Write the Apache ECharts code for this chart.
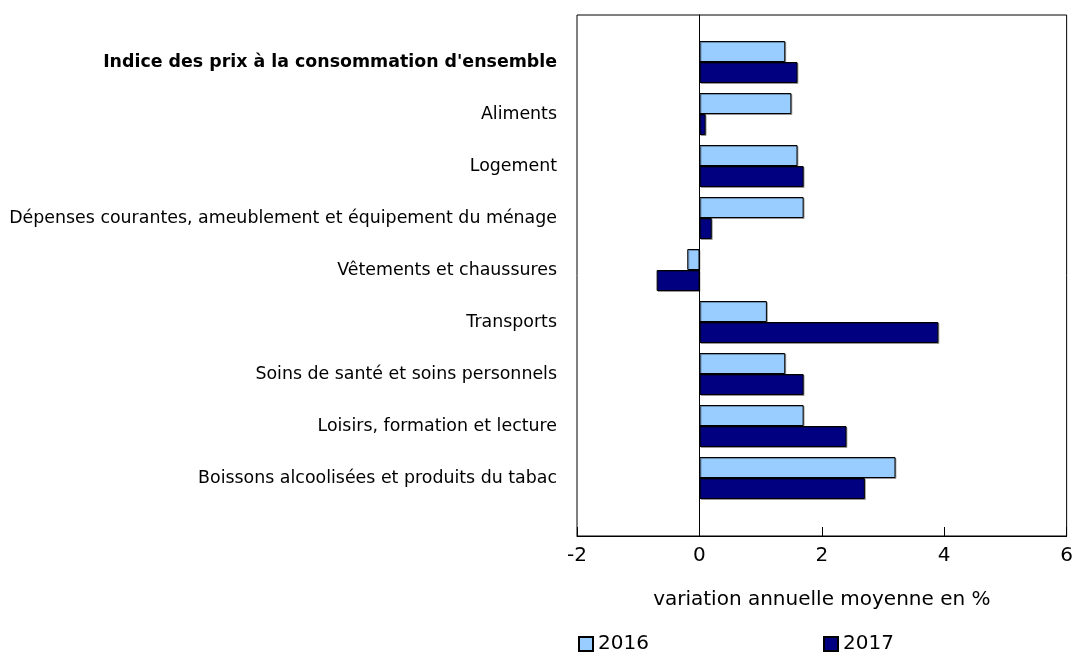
<!DOCTYPE html>
<html>
<head>
<meta charset="utf-8">
<script src="https://cdn.jsdelivr.net/npm/echarts@6/dist/echarts.min.js"></script>
<style>
  html, body { margin: 0; padding: 0; background: #fff; }
  #chart { width: 1076px; height: 654px; }
</style>
</head>
<body>
<div id="chart"></div>
<script>
var categories = [
    "Indice des prix à la consommation d'ensemble",
    "Aliments",
    "Logement",
    "Dépenses courantes, ameublement et équipement du ménage",
    "Vêtements et chaussures",
    "Transports",
    "Soins de santé et soins personnels",
    "Loisirs, formation et lecture",
    "Boissons alcoolisées et produits du tabac"
];
var values2016 = [1.4, 1.5, 1.6, 1.7, -0.2, 1.1, 1.4, 1.7, 3.2];
var values2017 = [1.6, 0.1, 1.7, 0.2, -0.7, 3.9, 1.7, 2.4, 2.7];
var xTicks = [-2, 0, 2, 4, 6];

var font = "DejaVu Sans, Verdana, sans-serif";
var chart = echarts.init(document.getElementById("chart"));

// bars get a faint grey drop shadow like the original
var barShadow = { shadowColor: "rgba(0,0,0,0.3)", shadowBlur: 0, shadowOffsetX: 1, shadowOffsetY: 1 };

chart.setOption({
    animation: false,
    textStyle: { fontFamily: font },
    grid: [
        { left: 577, right: 9, top: 36, height: 468, containLabel: false },
        { left: 577, right: 9, top: 15, height: 521, show: true, borderColor: "#000", borderWidth: 1, backgroundColor: "transparent" }
    ],
    legend: [
        {
            data: ["2016"], left: 573, top: 629, itemWidth: 14, itemHeight: 14, icon: "rect",
            textStyle: { fontSize: 20, color: "#000", fontFamily: font }
        },
        {
            data: ["2017"], left: 818, top: 629, itemWidth: 14, itemHeight: 14, icon: "rect",
            textStyle: { fontSize: 20, color: "#000", fontFamily: font }
        }
    ],
    xAxis: [
        { gridIndex: 0, type: "value", min: -2, max: 6, interval: 2, show: false },
        {
            gridIndex: 1, type: "value", min: xTicks[0], max: xTicks[xTicks.length - 1], interval: 2,
            axisLine: { show: true, lineStyle: { color: "#000" } },
            axisTick: { show: true, inside: true, length: 9, lineStyle: { color: "#000" } },
            axisLabel: { fontSize: 20, color: "#000", margin: 10, fontFamily: font },
            splitLine: { show: false },
            name: "variation annuelle moyenne en %",
            nameLocation: "middle",
            nameGap: 54,
            nameTextStyle: { fontSize: 20, color: "#000", fontFamily: font }
        }
    ],
    yAxis: [
        {
            gridIndex: 0, type: "category", inverse: true, data: categories,
            axisLine: { show: false, onZero: false },
            axisTick: { show: false },
            axisLabel: {
                fontSize: 17.4, color: "#000", margin: 20, fontFamily: font,
                formatter: function (v, i) { return i === 0 ? "{b|" + v + "}" : v; },
                rich: { b: { fontWeight: "bold", fontSize: 17.4, color: "#000", fontFamily: font } }
            }
        },
        {
            gridIndex: 1, type: "value", min: 0, max: 1,
            axisLine: { show: true, onZero: true, lineStyle: { color: "#000" } },
            axisTick: { show: false },
            axisLabel: { show: false },
            splitLine: { show: false }
        }
    ],
    series: [
        {
            name: "2016", type: "bar", xAxisIndex: 0, yAxisIndex: 0, data: values2016,
            barWidth: 21, barGap: "0%",
            itemStyle: Object.assign({ color: "#99ccff", borderColor: "#000", borderWidth: 1 }, barShadow)
        },
        {
            name: "2017", type: "bar", xAxisIndex: 0, yAxisIndex: 0, data: values2017,
            barWidth: 21, barGap: "0%",
            itemStyle: Object.assign({ color: "#000080", borderColor: "#000", borderWidth: 1 }, barShadow)
        }
    ]
});
</script>
</body>
</html>
